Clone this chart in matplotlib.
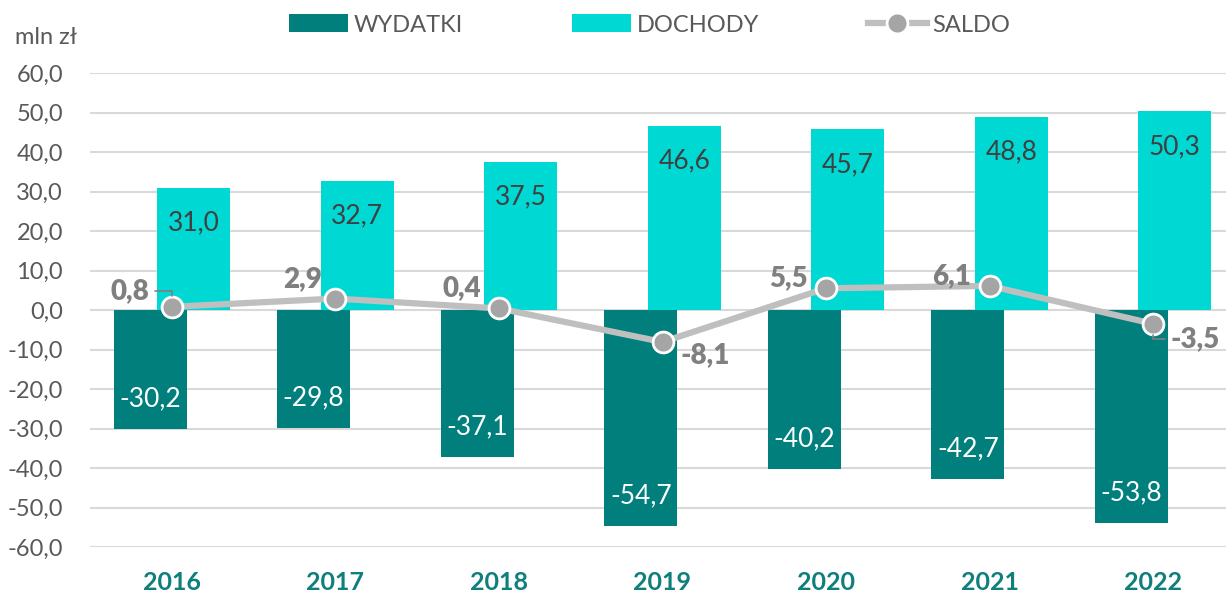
import matplotlib.pyplot as plt
import numpy as np

years = ['2016', '2017', '2018', '2019', '2020', '2021', '2022']
wydatki = [-30.2, -29.8, -37.1, -54.7, -40.2, -42.7, -53.8]
dochody = [31.0, 32.7, 37.5, 46.6, 45.7, 48.8, 50.3]
saldo = [0.8, 2.9, 0.4, -8.1, 5.5, 6.1, -3.5]
# label offsets (pixels) for saldo labels
saldo_off = [(-42, 16), (-33, 19), (-37, 20), (43, -13), (-38, 10), (-38, 10), (42, -15)]
leader = [True, False, False, False, False, False, True]

plt.rcParams['font.family'] = ['Lato', 'DejaVu Sans']

c_wyd = '#007f7c'
c_doch = '#00d8d4'
c_line = '#bfbfbf'
c_mark = '#a5a5a5'
c_txt = '#595959'

fig = plt.figure(figsize=(12.26, 5.94), dpi=100)
ax = fig.add_axes([90 / 1226, 47 / 594, 1145 / 1226, 474 / 594])

x = np.arange(len(years))
w = 0.446
off = 0.133
b1 = ax.bar(x - off, wydatki, w, color=c_wyd, label='WYDATKI', zorder=2)
b2 = ax.bar(x + off, dochody, w, color=c_doch, label='DOCHODY', zorder=2)
l1, = ax.plot(x, saldo, color=c_line, lw=4.5, marker='o', ms=15, mfc=c_mark,
              mec='white', mew=2, label='SALDO', zorder=3)

fmt = lambda v: f'{v:.1f}'.replace('.', ',')

for i in range(len(years)):
    ax.annotate(fmt(dochody[i]), (x[i] + off, dochody[i]),
                xytext=(0, -35), textcoords='offset pixels', ha='center', va='center',
                fontsize=19, color='#404040', zorder=4)
    ax.annotate(fmt(wydatki[i]), (x[i] - off, wydatki[i]),
                xytext=(0, 30), textcoords='offset pixels', ha='center', va='center',
                fontsize=19, color='white', zorder=4)
    ap = None
    if leader[i]:
        ap = dict(arrowstyle='-', color='#808080', lw=1.2, shrinkA=2, shrinkB=8,
                  connectionstyle='angle,angleA=0,angleB=90,rad=0')
    ax.annotate(fmt(saldo[i]), (x[i], saldo[i]),
                xytext=saldo_off[i], textcoords='offset pixels', ha='center', va='center',
                fontsize=20, fontweight='heavy', color='#808080', zorder=4,
                arrowprops=ap)

ax.set_xlim(-0.5, 6.5)
ax.set_ylim(-60, 60)
ticks = np.arange(-60, 61, 10)
ax.set_yticks(ticks)
ax.set_yticklabels([fmt(v) for v in ticks])
ax.set_xticks(x)
ax.set_xticklabels(years, fontweight='bold', color='#0e7f7c', fontsize=18)
ax.tick_params(axis='y', labelsize=17, labelcolor=c_txt, length=0, pad=19.5)
ax.tick_params(axis='x', length=0, pad=17)
ax.grid(axis='y', color='#d9d9d9', lw=1.5, zorder=0)
for s in ax.spines.values():
    s.set_visible(False)

fig.text(15 / 1226, 1 - 37 / 594, 'mln zł', fontsize=17, color=c_txt, va='center')

fig.legend([b1, b2, l1], ['WYDATKI', 'DOCHODY', 'SALDO'], loc='center',
           bbox_to_anchor=(0.53, 1 - 25 / 594), ncol=3, frameon=False,
           fontsize=17, handlelength=2.5, handleheight=0.8, handletextpad=0.25,
           columnspacing=4.6, labelcolor=c_txt)

fig.savefig('out.png', dpi=100)
